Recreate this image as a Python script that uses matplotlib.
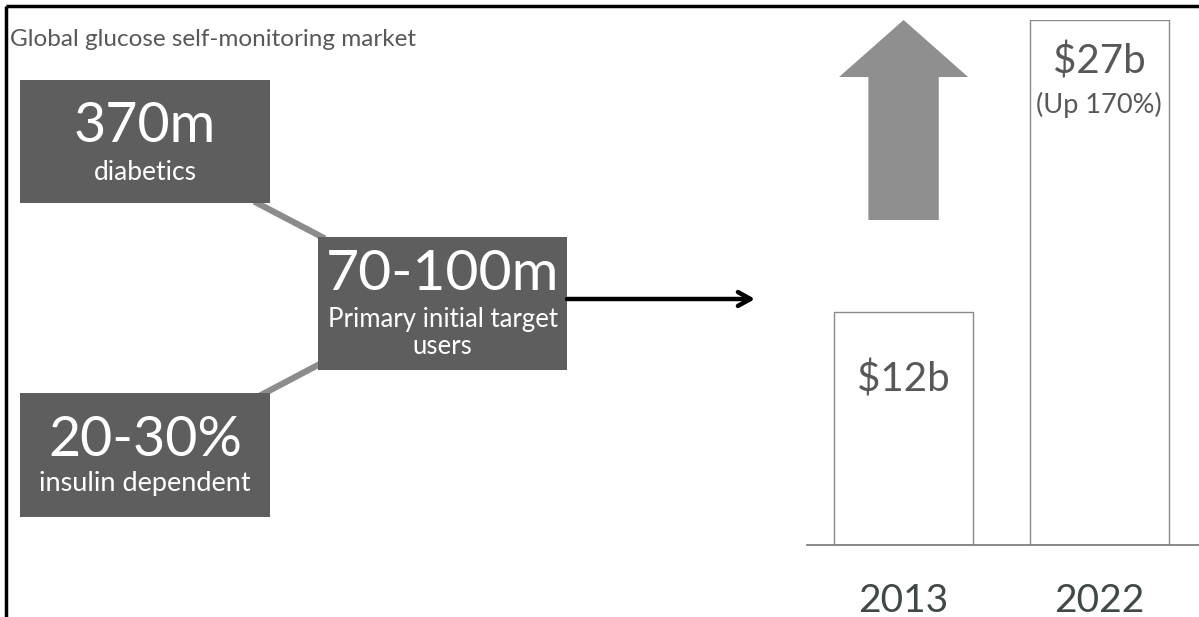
import matplotlib
matplotlib.use('Agg')
import matplotlib.pyplot as plt
import matplotlib.patches as mpatches

plt.rcParams['font.family'] = ['Lato', 'DejaVu Sans']

# ── palette ───────────────────────────────────────────────────────────────────
BOX_FILL   = '#5e5e5e'
LINK_GREY  = '#8c8c8c'
ARROW_GREY = '#8f8f8f'
TEXT_GREY  = '#585858'
YEAR_GREY  = '#404848'
BAR_EDGE   = '#8a8a8a'

# ── data ──────────────────────────────────────────────────────────────────────
years        = ['2013', '2022']
market_value = [12, 27]                        # $ billions
value_labels = ['$12b', '$27b']
growth_note  = '(Up 170%)'

stat_values  = ['370m', '70-100m', '20-30%']
stat_notes   = ['diabetics', 'Primary initial target\nusers', 'insulin dependent']

W, H = 1199, 617
fig = plt.figure(figsize=(W / 100, H / 100), dpi=100)
fig.patch.set_facecolor('white')

# canvas in pixel units for the left-hand diagram
ax = fig.add_axes([0, 0, 1, 1])
ax.set_xlim(0, W)
ax.set_ylim(H, 0)
ax.axis('off')

# frame lines (top and left)
ax.plot([6, W], [6, 6], color='black', lw=2.5, solid_capstyle='butt', zorder=10)
ax.plot([6, 6], [6, H], color='black', lw=2.5, solid_capstyle='butt', zorder=10)

ax.text(10, 40, 'Global glucose self-monitoring market', fontsize=17.5,
        color=TEXT_GREY, ha='left', va='center')

# ── stat boxes ────────────────────────────────────────────────────────────────
boxes = [(20, 80, 250, 123), (318, 237, 249, 133), (20, 393, 250, 124)]
value_y = [127, 274, 440]
value_fs = [40, 41, 40]
note_y  = [172, 333, 483]
note_fs = [19, 18.5, 19.5]

# connectors behind the boxes
ax.plot([257, 322], [203, 237], color=LINK_GREY, lw=4.5, zorder=1)
ax.plot([318, 263], [365, 394], color=LINK_GREY, lw=4.5, zorder=1)

for (x, y, w, h), val, note, vy, vfs, ny, nfs in zip(boxes, stat_values, stat_notes,
                                                     value_y, value_fs, note_y, note_fs):
    ax.add_patch(mpatches.Rectangle((x, y), w, h, facecolor=BOX_FILL,
                                    edgecolor='none', zorder=2))
    ax.text(x + w / 2, vy, val, fontsize=vfs, color='white',
            ha='center', va='center', zorder=3)
    ax.text(x + w / 2, ny, note, fontsize=nfs, color='white',
            ha='center', va='center', linespacing=1.08, zorder=3)

# arrow pointing at the market bars
ax.annotate('', xy=(755, 299), xytext=(567, 299),
            arrowprops=dict(arrowstyle='->,head_length=0.9,head_width=0.5',
                            color='black', lw=3.2, shrinkA=0, shrinkB=0))

# ── market bars ───────────────────────────────────────────────────────────────
base_px, top_px = 545, 20
bax = fig.add_axes([807 / W, (H - base_px) / H, (W - 807) / W, (base_px - top_px) / H])
bax.set_facecolor('none')
xpos = list(range(len(years)))
bax.bar(xpos, market_value, width=0.71, facecolor='white', edgecolor=BAR_EDGE,
        linewidth=1.0, zorder=2)
bax.set_xlim(-0.494, 1.511)
bax.set_ylim(0, max(market_value))

for side in ['top', 'right', 'left']:
    bax.spines[side].set_visible(False)
bax.spines['bottom'].set_color('#777777')
bax.spines['bottom'].set_linewidth(1.2)
bax.set_yticks([])
bax.set_xticks(xpos)
bax.set_xticklabels(years, fontsize=28, color=YEAR_GREY)
bax.tick_params(axis='x', length=0, pad=27)

# growth arrow above the 2013 bar
px_to_val = max(market_value) / (base_px - top_px)
hy = (base_px - 77) * px_to_val
shaft_bottom = (base_px - 220) * px_to_val
arrow = mpatches.Polygon([(-0.18, shaft_bottom), (-0.18, hy), (-0.33, hy),
                          (0, max(market_value)), (0.33, hy), (0.18, hy),
                          (0.18, shaft_bottom)],
                         closed=True, facecolor=ARROW_GREY, edgecolor='none', zorder=3)
bax.add_patch(arrow)

bax.annotate(value_labels[0], xy=(0, market_value[0]), xytext=(0, -49),
             textcoords='offset points', ha='center', va='center',
             fontsize=29, color=TEXT_GREY)
bax.annotate(value_labels[1], xy=(1, market_value[1]), xytext=(0, -30),
             textcoords='offset points', ha='center', va='center',
             fontsize=29, color=TEXT_GREY)
bax.annotate(growth_note, xy=(1, market_value[1]), xytext=(0, -61),
             textcoords='offset points', ha='center', va='center',
             fontsize=19.5, color=TEXT_GREY)

fig.savefig('out.png', dpi=100, facecolor='white')
